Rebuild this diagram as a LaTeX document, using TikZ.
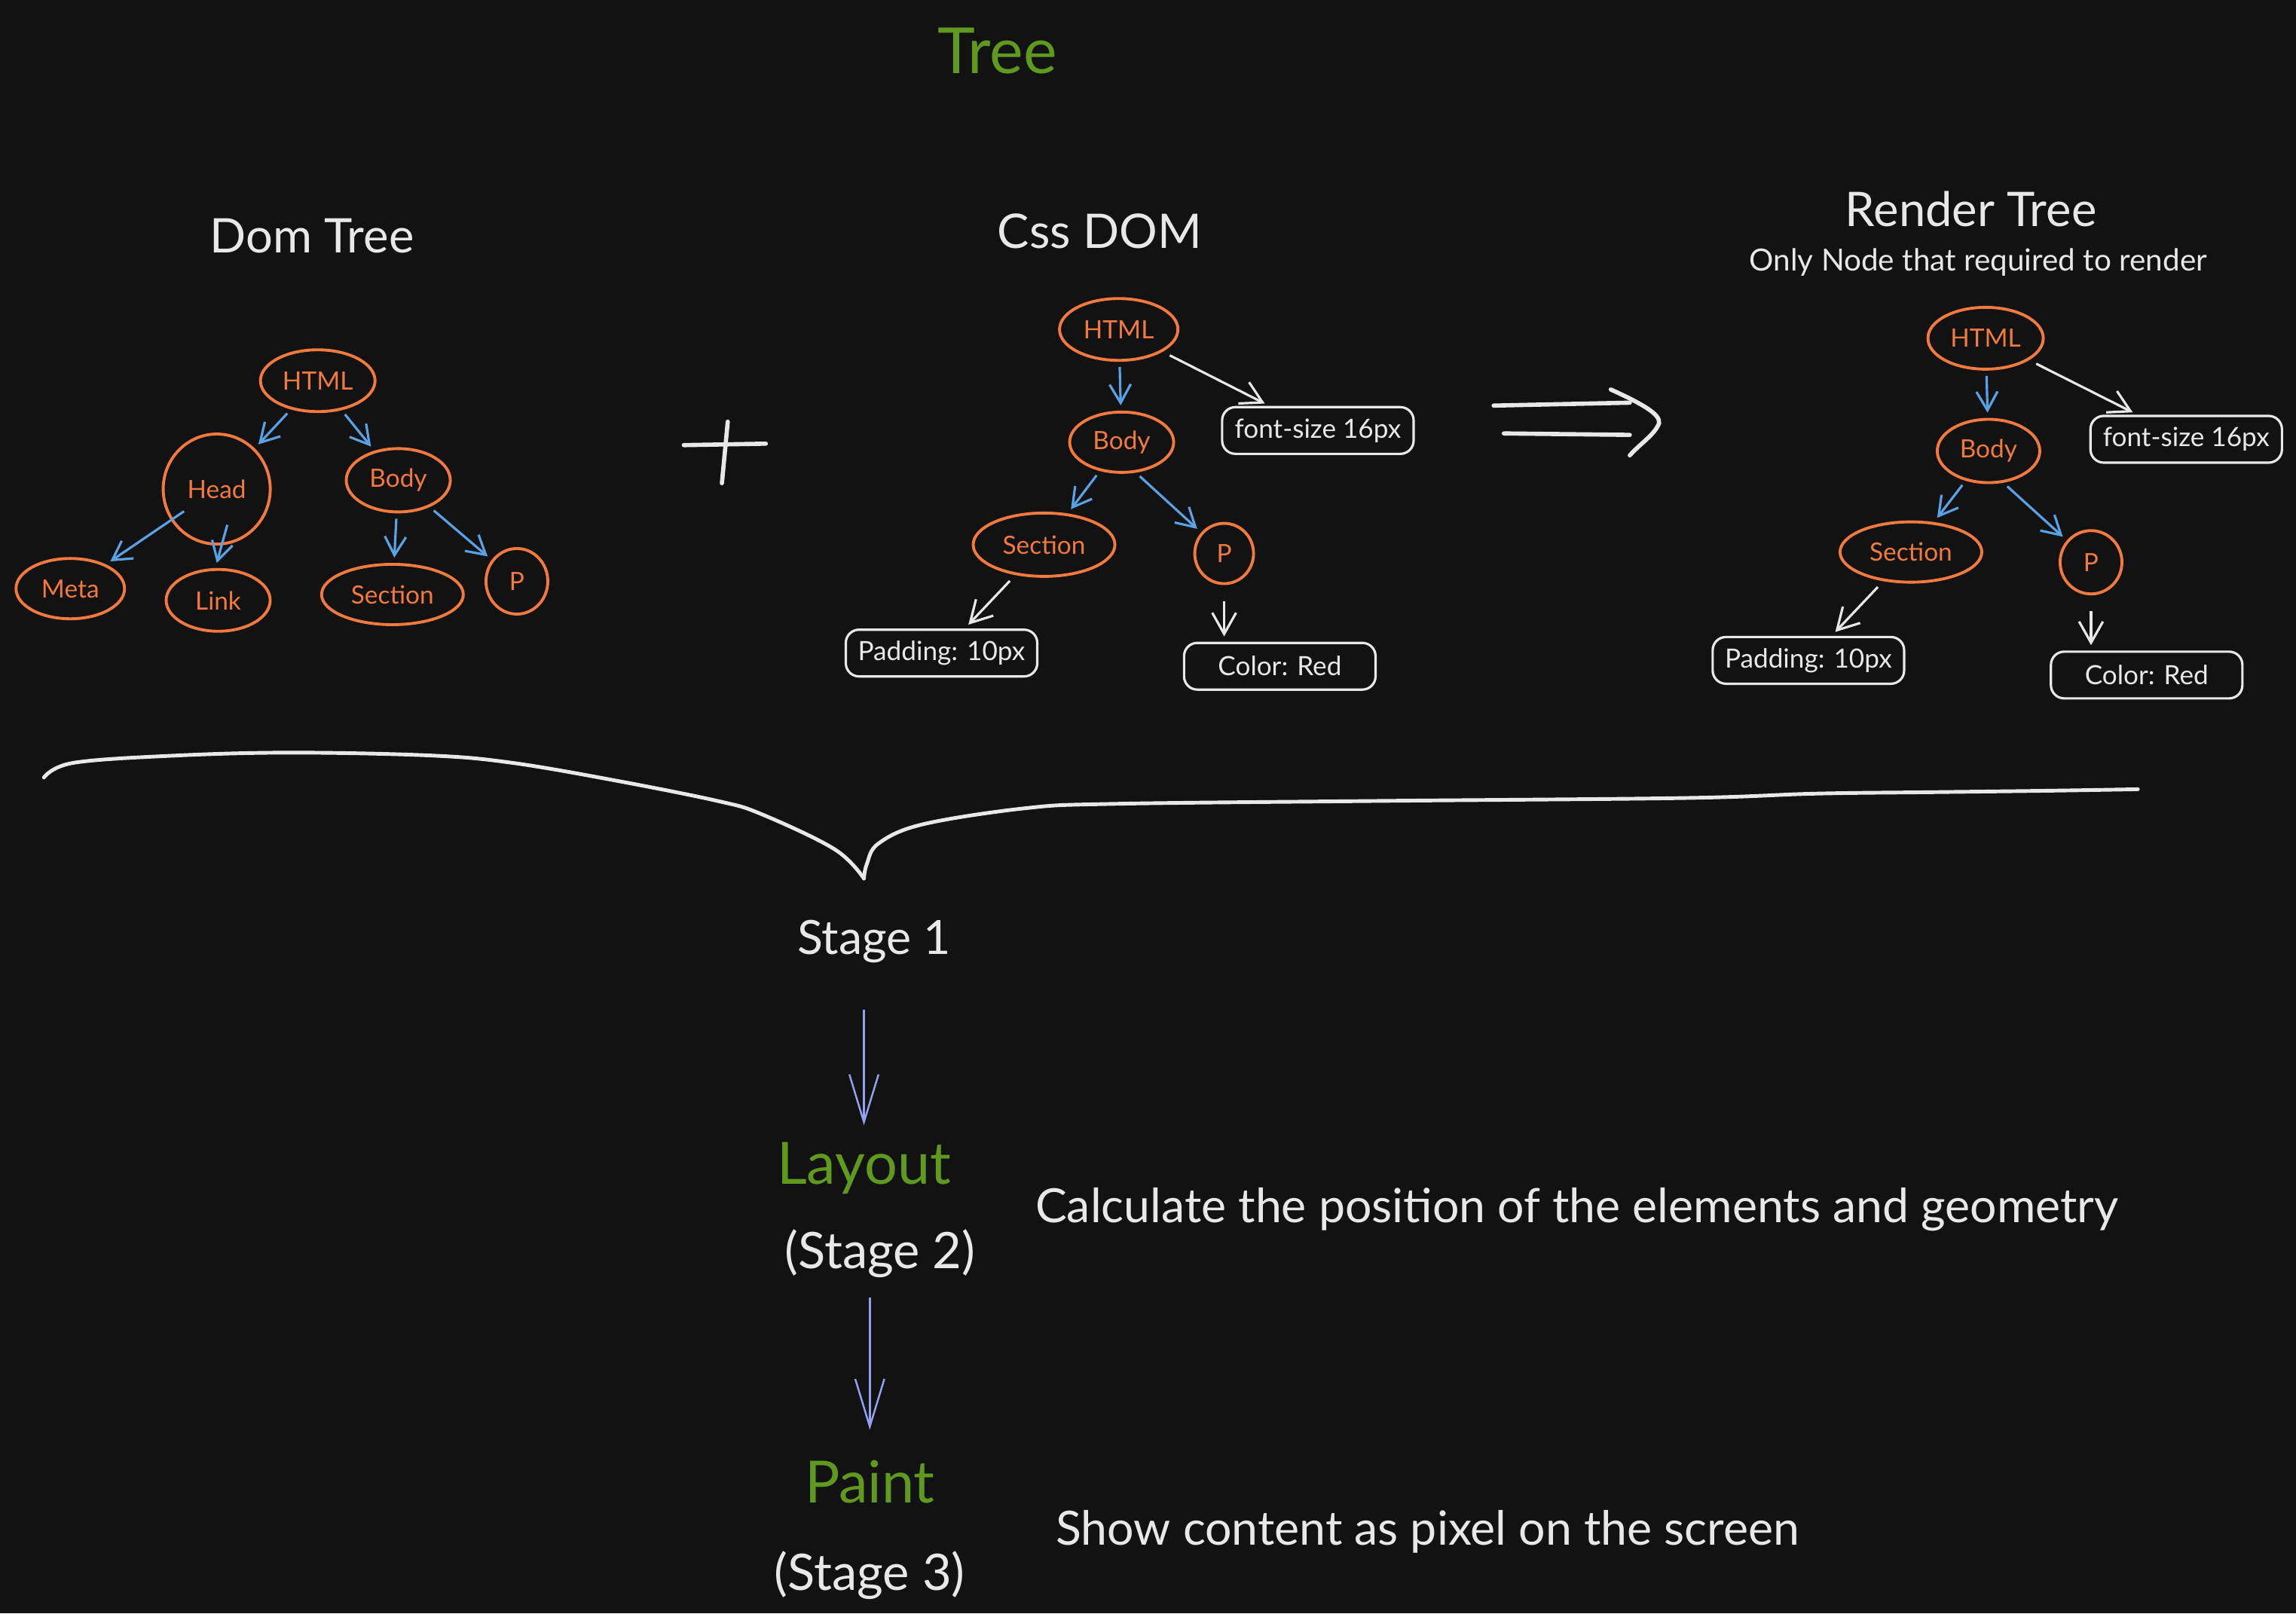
\documentclass[tikz,border=0pt]{standalone}
\usepackage{fontspec}
\setmainfont{Lato}
\usetikzlibrary{shapes.geometric,arrows.meta}
\definecolor{bg}{HTML}{121212}
\definecolor{orng}{HTML}{F27A3E}
\definecolor{blu}{HTML}{5AA2E6}
\definecolor{lav}{HTML}{92A2F2}
\definecolor{grn}{HTML}{5F9A1E}
\definecolor{wht}{HTML}{E8E8E8}
\begin{document}
\begin{tikzpicture}[x=0.01943cm, y=-0.01943cm,
		tnode/.style={draw=orng, ellipse, line width=1.1pt, inner sep=0pt, text=orng, font=\fontsize{9.5}{11}\selectfont},
		pbox/.style={draw=wht, rounded corners=5pt, line width=0.9pt, inner sep=0pt, minimum width=2.54cm, minimum height=0.62cm, text=wht, font=\fontsize{10}{12}\selectfont},
		tarr/.style={draw=blu, line width=0.9pt, -{Straight Barb[length=7pt,width=8pt]}, shorten <=2pt, shorten >=2pt},
		warr/.style={draw=wht, line width=0.9pt, -{Straight Barb[length=8pt,width=9pt]}, shorten <=3pt, shorten >=2pt},
		sarr/.style={draw=lav, line width=0.7pt, -{Straight Barb[length=18pt,width=11pt]}},
		ttl/.style={text=wht, font=\fontsize{18}{22}\selectfont},
		txt/.style={text=wht, font=\fontsize{17.8}{21}\selectfont},
		gtxt/.style={text=grn, font=\fontsize{22}{26}\selectfont}]
			\fill[bg] (0,0) rectangle (1568,1102);
			\useasboundingbox (0,0) rectangle (1568,1102);
			\node[gtxt, font=\fontsize{24}{28}\selectfont] (t0) at (681,35) {Tree};
			\node[ttl] (t1) at (213,161) {Dom Tree};
			\node[ttl] (t2) at (751,158) {Css DOM};
			\node[ttl] (t3) at (1346,143) {Render Tree};
			\node[text=wht, font=\fontsize{11.5}{14}\selectfont] (t4) at (1351,179) {Only Node that required to render};
			\node[tnode, minimum width=1.52cm, minimum height=0.82cm] (dA) at (217,260) {HTML};
			\node[tnode, minimum width=1.42cm, minimum height=1.46cm] (dB1) at (148,334) {Head};
			\node[tnode, minimum width=1.38cm, minimum height=0.84cm] (dB2) at (272,328) {Body};
			\node[tnode, minimum width=1.44cm, minimum height=0.80cm] (dC1) at (48,402) {Meta};
			\node[tnode, minimum width=1.38cm, minimum height=0.82cm] (dC2) at (149,410) {Link};
			\node[tnode, minimum width=1.88cm, minimum height=0.80cm] (dC3) at (268,406) {Section};
			\node[tnode, minimum width=0.82cm, minimum height=0.87cm] (dC4) at (353,397) {P};
			\draw[tarr] (dA) -- (dB1);
			\draw[tarr] (dA) -- (dB2);
			\draw[tarr, shorten <=-6pt] (dB1) -- (dC1);
			\draw[tarr, shorten <=-8pt] (dB1.-85) -- (dC2.95);
			\draw[tarr] (dB2) -- (dC3);
			\draw[tarr] (dB2) -- (dC4);
			\draw[wht, line width=1.6pt, line cap=round] (467,304) -- (523,303);
			\draw[wht, line width=1.6pt, line cap=round] (497,288) -- (493,330);
			\node[tnode, minimum width=1.57cm, minimum height=0.82cm] (cA) at (764,225) {HTML};
			\node[tnode, minimum width=1.38cm, minimum height=0.80cm] (cB) at (766,302) {Body};
			\node[tnode, minimum width=1.88cm, minimum height=0.84cm] (cC1) at (713,372) {Section};
			\node[tnode, minimum width=0.78cm, minimum height=0.80cm] (cC2) at (836,378) {P};
			\node[pbox] (cF) at (900,294) {font-size 16px};
			\node[pbox] (cD1) at (643,446) {Padding: 10px};
			\node[pbox] (cD2) at (874,455) {Color: Red};
			\draw[tarr] (cA) -- (cB);
			\draw[warr] (cA) -- (cF);
			\draw[tarr] (cB) -- (cC1);
			\draw[tarr] (cB.-65) -- (cC2);
			\draw[warr] (cC1) -- (cD1);
			\draw[warr, shorten <=6pt] (cC2.south) -- (cC2.south |- cD2.north);
			\draw[wht, line width=1.6pt, line cap=round] (1020,277) -- (1113,275);
			\draw[wht, line width=1.6pt, line cap=round] (1027,296) -- (1113,297);
			\draw[wht, line width=1.6pt, line cap=round] (1100,266) .. controls (1122,276) and (1134,283) .. (1133,289) .. controls (1130,297) and (1120,303) .. (1113,311);
			\node[tnode, minimum width=1.53cm, minimum height=0.82cm] (rA) at (1356,231) {HTML};
			\node[tnode, minimum width=1.36cm, minimum height=0.84cm] (rB) at (1358,308) {Body};
			\node[tnode, minimum width=1.88cm, minimum height=0.80cm] (rC1) at (1305,377) {Section};
			\node[tnode, minimum width=0.82cm, minimum height=0.84cm] (rC2) at (1428,384) {P};
			\node[pbox] (rF) at (1493,300) {font-size 16px};
			\node[pbox] (rD1) at (1235,451) {Padding: 10px};
			\node[pbox] (rD2) at (1466,461) {Color: Red};
			\draw[tarr] (rA) -- (rB);
			\draw[warr] (rA) -- (rF);
			\draw[tarr] (rB) -- (rC1);
			\draw[tarr] (rB.-65) -- (rC2);
			\draw[warr] (rC1) -- (rD1);
			\draw[warr, shorten <=6pt] (rC2.south) -- (rC2.south |- rD2.north);
			\draw[wht, line width=1.4pt, line cap=round] plot[smooth, tension=0.6] coordinates {(30,531) (50,521) (120,516) (200,514) (295,516) (350,521) (420,533) (490,547) (520,556) (570,580) (590,600)};
			\draw[wht, line width=1.4pt, line cap=round] plot[smooth, tension=0.6] coordinates {(590,600) (592,590) (600,576) (630,563) (700,552) (760,549) (940,547) (1150,545) (1240,542) (1320,541) (1400,540) (1460,539)};
			\node[txt] (S1) at (597,643) {Stage 1};
			\node[gtxt] (L) at (590,798) {Layout};
			\node[txt, font=\fontsize{19}{23}\selectfont] (S2) at (601,856) {(Stage 2)};
			\node[txt] (T1) at (1077,826) {Calculate the position of the elements and geometry};
			\node[gtxt] (P) at (594,1012) {Paint};
			\node[txt, font=\fontsize{19}{23}\selectfont] (S3) at (594,1076) {(Stage 3)};
			\node[txt] (T2) at (975,1046) {Show content as pixel on the screen};
			\draw[sarr, shorten <=14pt, shorten >=3pt] (L.north |- S1.south) -- (L.north);
			\draw[sarr, shorten <=4pt, shorten >=8pt] (P.north |- S2.south) -- (P.north);
		\end{tikzpicture}
\end{document}
